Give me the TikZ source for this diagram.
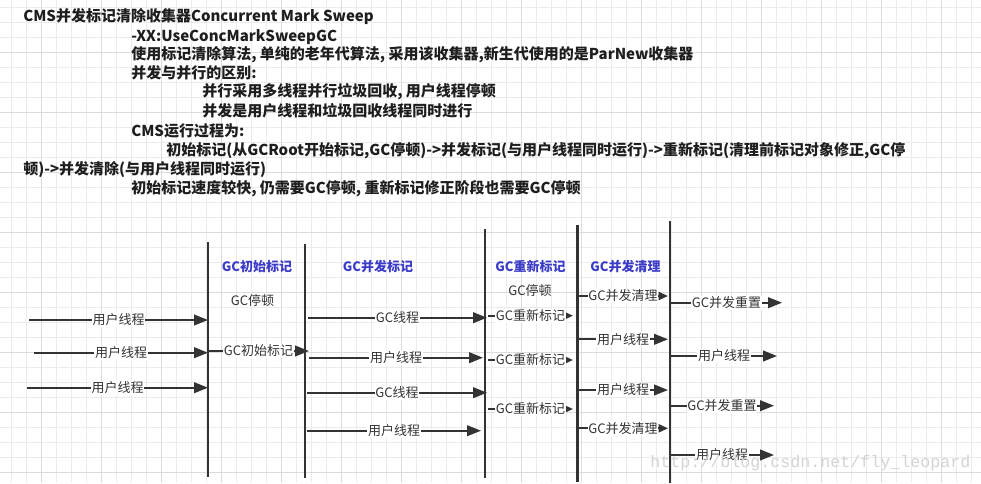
\documentclass[tikz,border=0pt]{standalone}
\usepackage{fontspec}
\setmainfont{Noto Sans CJK SC}
\newfontfamily\wmfont{Liberation Mono}
\usetikzlibrary{arrows.meta}
\definecolor{ink}{HTML}{333333}
\definecolor{txt}{HTML}{1E1E1E}
\definecolor{phaseblue}{RGB}{60,60,200}
\definecolor{gridminor}{HTML}{EBEBEB}
\definecolor{gridmajor}{HTML}{DCDCDC}
\definecolor{wmgray}{HTML}{D4D4D4}
\newcommand\myheadfont{\fontsize{11.25pt}{13pt}\selectfont\bfseries}
\newcommand\mylblfont{\fontsize{9.75pt}{11pt}\selectfont}
\newcommand\myphasefont{\fontsize{9.75pt}{11pt}\selectfont\bfseries}
\newcommand\myflow[6][flowarrow]{%
  \coordinate (#2s) at (#3,#5);
  \coordinate (#2e) at (#4,#5);
  \draw[#1] (#2s) -- node[lbl] (#2l) {#6} (#2e);
}
\newcommand\mylane[4]{%
  \coordinate (#1t) at (#2,#3);
  \coordinate (#1b) at (#2,#4);
  \draw[lane] (#1t) -- (#1b);
}
\tikzset{
  minorline/.style={draw=gridminor, line width=0.6pt},
  majorline/.style={draw=gridmajor, line width=0.6pt},
  lane/.style={draw=ink, line width=2pt},
  flowarrow/.style={draw=ink, line width=1.5pt, -{Triangle[length=10.5pt,width=8pt]}},
  smallarrow/.style={draw=ink, line width=1.5pt, -{Triangle[length=7pt,width=6pt]}},
  lbl/.style={fill=white, inner sep=0.5pt, text=ink, font=\mylblfont, text height=8.6pt, text depth=1.2pt},
  note/.style={inner sep=0pt, text=ink, font=\mylblfont, text height=8.6pt, text depth=1.2pt},
  phase/.style={inner sep=0pt, text=phaseblue, font=\myphasefont, text height=8.6pt, text depth=1.2pt},
  headline/.style={anchor=base west, inner sep=0pt, text=txt, font=\myheadfont},
}
\begin{document}
\begin{tikzpicture}[x=0.75pt,y=-0.75pt]
\useasboundingbox (0,0) rectangle (981,483);
\fill[white] (0,0) rectangle (981,483);
% grid
\foreach \gx in {11.7,26.7,...,981} \draw[minorline] (\gx,0) -- (\gx,483);
\foreach \gy in {7.3,22.3,...,483} \draw[minorline] (0,\gy) -- (981,\gy);
\foreach \gx in {41.7,101.7,...,981} \draw[majorline] (\gx,0) -- (\gx,483);
\foreach \gy in {52.3,112.3,...,483} \draw[majorline] (0,\gy) -- (981,\gy);
% header text
\node[headline] (h1) at (23,21) {CMS并发标记清除收集器Concurrent Mark Sweep};
\node[headline] (h2) at (131,41) {-XX:UseConcMarkSweepGC};
\node[headline] (h3) at (131,59) {使用标记清除算法, 单纯的老年代算法, 采用该收集器,新生代使用的是ParNew收集器};
\node[headline] (h4) at (131,78) {并发与并行的区别:};
\node[headline] (h5) at (202,96) {并行采用多线程并行垃圾回收, 用户线程停顿};
\node[headline] (h6) at (202,116) {并发是用户线程和垃圾回收线程同时进行};
\node[headline] (h7) at (131,136) {CMS运行过程为:};
\node[headline] (h8) at (166,155) {初始标记(从GCRoot开始标记,GC停顿)->并发标记(与用户线程同时运行)->重新标记(清理前标记对象修正,GC停};
\node[headline] (h9) at (23,174) {顿)->并发清除(与用户线程同时运行)};
\node[headline] (h10) at (131,193) {初始标记速度较快, 仍需要GC停顿, 重新标记修正阶段也需要GC停顿};
% lanes
\mylane{v1}{208}{242}{477}
\mylane{v2}{305}{244}{478}
\mylane{v3}{485}{229}{478}
\mylane{v4}{577.5}{225}{482}
\mylane{v5}{670}{221}{483}
% phase titles
\node[phase] (p1) at (257,266.5) {GC初始标记};
\node[phase] (p2) at (378,266.5) {GC并发标记};
\node[phase] (p3) at (530.5,266.5) {GC重新标记};
\node[phase] (p4) at (625.5,266.5) {GC并发清理};
\node[note] (s1) at (252.5,301) {GC停顿};
\node[note] (s2) at (530,291) {GC停顿};
% flows
\myflow{a1}{29}{208}{320}{用户线程}
\myflow{a2}{34}{208}{352.7}{用户线程}
\myflow{a3}{27}{208}{387.7}{用户线程}
\myflow{b1}{208}{309}{351}{GC初始标记}
\myflow{c1}{308}{487}{317.7}{GC线程}
\myflow{c2}{309}{483}{357.7}{用户线程}
\myflow{c3}{307}{487}{392.7}{GC线程}
\myflow{c4}{307}{481}{430.7}{用户线程}
\myflow[smallarrow]{d1}{488}{573}{315.7}{GC重新标记}
\myflow[smallarrow]{d2}{488}{573}{360}{GC重新标记}
\myflow[smallarrow]{d3}{488}{573}{409}{GC重新标记}
\myflow[smallarrow]{e1}{578}{668}{296}{GC并发清理}
\myflow{e2}{578}{668}{339.3}{用户线程}
\myflow{e3}{578}{668}{390}{用户线程}
\myflow[smallarrow]{e4}{578}{668}{428.3}{GC并发清理}
\myflow{f1}{671}{782}{302.7}{GC并发重置}
\myflow{f2}{671}{777}{356}{用户线程}
\myflow{f3}{670}{774}{405.7}{GC并发重置}
\myflow{f4}{670}{774}{455}{用户线程}
% watermark
\node[anchor=west, inner sep=0pt, text=wmgray, font=\wmfont\fontsize{12.5pt}{14pt}\selectfont] (wm) at (650,463) {http://blog.csdn.net/fly\_leopard};
\end{tikzpicture}
\end{document}
